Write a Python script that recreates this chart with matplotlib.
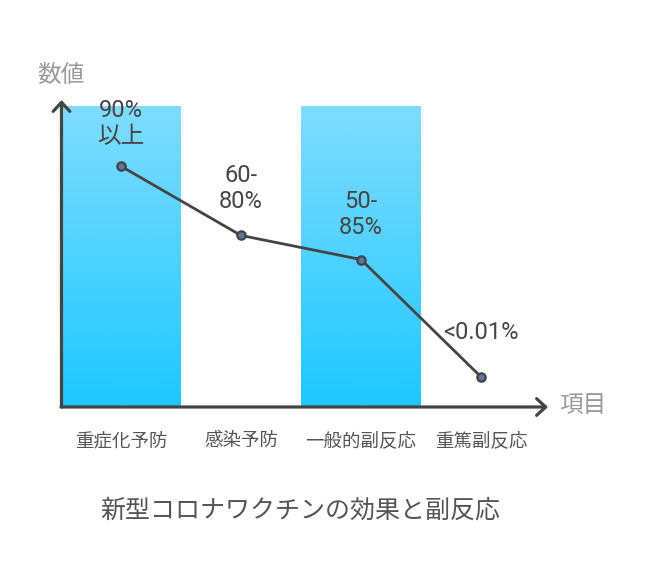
"""Vaccine effect vs side-effect chart (stripe columns + line)."""
import matplotlib
matplotlib.use("Agg")
import matplotlib.pyplot as plt
import numpy as np
from matplotlib.colors import LinearSegmentedColormap

plt.rcParams["font.family"] = ["Roboto", "Noto Sans CJK JP", "DejaVu Sans"]

# -----------------------------------------------------------------------------
# Data
# -----------------------------------------------------------------------------
categories = ["重症化予防", "感染予防", "一般的副反応", "重篤副反応"]
values = [80, 57, 49, 10]
value_labels = ["90%\n以上", "60-\n80%", "50-\n85%", "<0.01%"]
stripe_heights = [100, 0, 100, 0]
title = "新型コロナワクチンの効果と副反応"
x_title = "項目"
y_title = "数値"

# -----------------------------------------------------------------------------
# Figure
# -----------------------------------------------------------------------------
W, H = 648, 588
fig = plt.figure(figsize=(W / 100, H / 100), dpi=100)
ax = fig.add_axes([61 / W, 181 / H, (548 - 61) / W, 307 / H])

x = np.arange(len(categories))
cmap = LinearSegmentedColormap.from_list("stripe", ["#1ec8fe", "#80dcfe"])
grad = np.linspace(0, 1, 256).reshape(-1, 1)
for xi, h in zip(x, stripe_heights):
    if h > 0:
        ax.imshow(grad, extent=(xi - 0.5, xi + 0.5, 0, h), origin="lower",
                  cmap=cmap, aspect="auto", zorder=1)

ax.plot(x, values, color="#444444", lw=2, zorder=3,
        marker="o", markersize=6, markerfacecolor="#65759a",
        markeredgecolor="#3d434f", markeredgewidth=1.6)

offsets = [13, 16.5, 15, 24]
for xi, v, lab, off in zip(x, values, value_labels, offsets):
    ax.annotate(lab, (xi, v), xytext=(0, off), textcoords="offset points",
                ha="center", va="bottom", multialignment="center",
                fontsize=17, color="#454545", linespacing=1.15, zorder=4)

ax.set_xlim(-0.5, (548 - 121) / 120)
ax.set_ylim(0, 102)
for s in ax.spines.values():
    s.set_visible(False)
ax.set_yticks([])
ax.set_xticks(x)
ax.set_xticklabels(categories, fontsize=13.3, color="#555555",
                   family=["Noto Sans CJK JP"])
ax.tick_params(axis="x", length=0, pad=18)

# axis arrows
arrow = dict(arrowstyle="->,head_length=0.65,head_width=0.6",
             color="#444444", lw=2.3, shrinkA=0, shrinkB=0)
ax.annotate("", xy=(0.001, 1.0), xytext=(0.001, 0), xycoords="axes fraction",
            textcoords="axes fraction", arrowprops=arrow, annotation_clip=False)
ax.annotate("", xy=(1.0, 0), xytext=(0.0, 0), xycoords="axes fraction",
            textcoords="axes fraction", arrowprops=arrow, annotation_clip=False)

fig.text(61 / W, 1 - 75 / H, y_title, ha="center", va="center", fontsize=17,
         color="#999999", family=["Noto Sans CJK JP"])
fig.text(583 / W, 1 - 406 / H, x_title, ha="center", va="center", fontsize=17,
         color="#999999", family=["Noto Sans CJK JP"])
fig.text(300 / W, 1 - 511 / H, title, ha="center", va="center", fontsize=18,
         color="#555555", family=["Noto Sans CJK JP"])

fig.savefig("out.png", dpi=100, facecolor="white")
